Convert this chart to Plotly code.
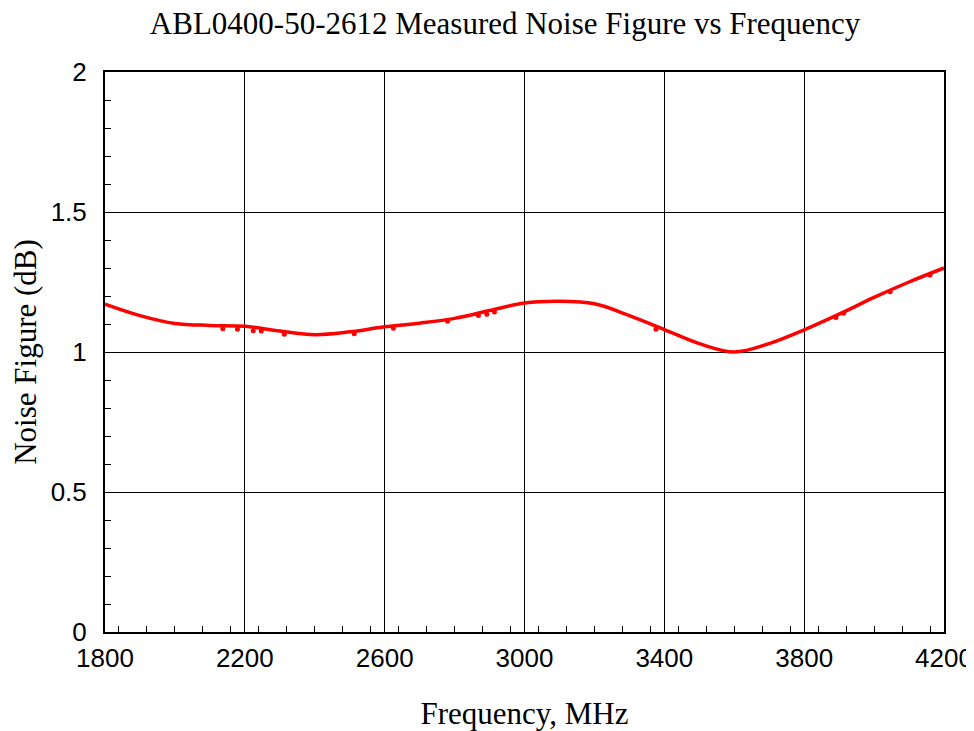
import plotly.graph_objects as go

# Smoothed fit curve (MHz, dB)
fit_freq = [1800, 1900, 2000, 2100, 2200, 2300, 2400, 2500, 2600, 2700, 2800, 2900,
            3000, 3100, 3200, 3300, 3400, 3500, 3600, 3700, 3800, 3900, 4000, 4100, 4200]
fit_nf = [1.171, 1.130, 1.102, 1.095, 1.092, 1.075, 1.062, 1.072, 1.090, 1.103, 1.120, 1.148,
          1.175, 1.181, 1.172, 1.130, 1.080, 1.030, 1.000, 1.030, 1.079, 1.135, 1.195, 1.250, 1.300]

# Measured points
meas_freq = [2137, 2179, 2224, 2247, 2313, 2513, 2625, 2780, 2868, 2892, 2914,
             3376, 3891, 3913, 4046, 4160]
meas_nf = [1.083, 1.081, 1.076, 1.075, 1.063, 1.065, 1.085, 1.110, 1.130, 1.135, 1.143,
           1.081, 1.123, 1.138, 1.215, 1.275]

fig = go.Figure()
fig.add_trace(go.Scatter(x=meas_freq, y=meas_nf, mode="markers",
                         marker=dict(color="#ff0000", size=5), showlegend=False))
fig.add_trace(go.Scatter(x=fit_freq, y=fit_nf, mode="lines", line_shape="spline",
                         line=dict(color="#ff0000", width=3.5), showlegend=False))

serif = dict(family="Liberation Serif, Times New Roman", size=31, color="black")
axis_common = dict(showline=True, linecolor="black", linewidth=2, mirror=True,
                   showgrid=True, gridcolor="black", gridwidth=1, zeroline=False,
                   ticks="inside", ticklen=6, tickcolor="black", automargin=False,
                   tickfont=dict(family="Liberation Sans, Arial", size=26, color="black"))

fig.update_layout(
    width=966, height=723,
    paper_bgcolor="white", plot_bgcolor="white",
    margin=dict(l=97, r=30, t=64, b=99),
    title=dict(text="ABL0400-50-2612 Measured Noise Figure vs Frequency",
               x=0.5145, xanchor="center", y=0.994, yanchor="top", font=serif),
    xaxis=dict(range=[1800, 4200], dtick=400, tick0=1800, ticklabelstandoff=2,
               minor=dict(dtick=80, ticks="inside", ticklen=6, tickcolor="black", showgrid=False),
               title=dict(text="Frequency, MHz", standoff=30, font=serif),
               **axis_common),
    yaxis=dict(range=[0, 2], dtick=0.5, ticklabelstandoff=11,
               minor=dict(dtick=0.1, ticks="inside", ticklen=6, tickcolor="black", showgrid=False),
               title=dict(text="Noise Figure (dB)", standoff=20, font=serif),
               **axis_common),
)

fig.write_html("out.html")
